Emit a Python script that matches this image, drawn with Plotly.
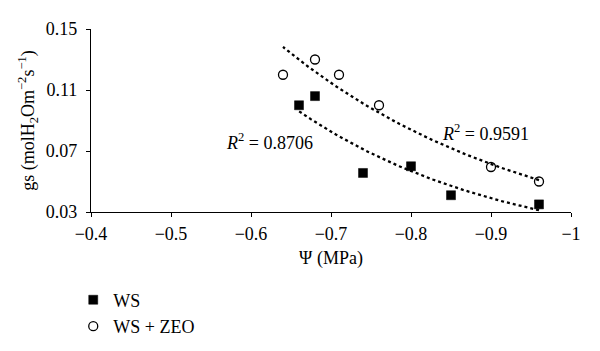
import numpy as np
import plotly.graph_objects as go

# Data
ws_x = [-0.66, -0.68, -0.74, -0.80, -0.85, -0.96]
ws_y = [0.100, 0.106, 0.0556, 0.060, 0.041, 0.035]
zeo_x = [-0.64, -0.68, -0.71, -0.76, -0.90, -0.96]
zeo_y = [0.120, 0.130, 0.120, 0.100, 0.0595, 0.050]

x_ticks = [-0.4, -0.5, -0.6, -0.7, -0.8, -0.9, -1.0]
x_tick_text = ["\u22120.4", "\u22120.5", "\u22120.6", "\u22120.7", "\u22120.8", "\u22120.9", "\u22121"]
y_ticks = [0.03, 0.07, 0.11, 0.15]
y_tick_text = ["0.03", "0.07", "0.11", "0.15"]

r2_ws = "0.8706"
r2_zeo = "0.9591"

FONT = "Liberation Serif, Times New Roman, serif"
FS = 18


def exp_trend(xs, ys):
    # Exponential trendline (least squares on ln y), as a spreadsheet would draw it
    b, a = np.polyfit(xs, np.log(ys), 1)
    xx = np.linspace(min(xs), max(xs), 80)
    return xx, np.exp(a + b * xx)


fig = go.Figure()

tx, ty = exp_trend(zeo_x, zeo_y)
fig.add_trace(go.Scatter(x=tx, y=ty, mode="lines", showlegend=False,
                         line=dict(color="black", width=2.3, dash="dot"), hoverinfo="skip"))
tx, ty = exp_trend(ws_x, ws_y)
fig.add_trace(go.Scatter(x=tx, y=ty, mode="lines", showlegend=False,
                         line=dict(color="black", width=2.3, dash="dot"), hoverinfo="skip"))

fig.add_trace(go.Scatter(x=ws_x, y=ws_y, mode="markers", name="WS",
                         marker=dict(symbol="square", size=9, color="black",
                                     line=dict(color="black", width=0.5))))
fig.add_trace(go.Scatter(x=zeo_x, y=zeo_y, mode="markers", name="WS + ZEO",
                         marker=dict(symbol="circle-open", size=9, color="black",
                                     line=dict(color="black", width=1.3))))

fig.add_annotation(x=-0.6228, y=0.0762, xref="x", yref="y", showarrow=False,
                   text="<i>R</i><sup>2</sup> = " + r2_ws,
                   font=dict(family=FONT, size=FS, color="black"))
fig.add_annotation(x=-0.8935, y=0.0819, xref="x", yref="y", showarrow=False,
                   text="<i>R</i><sup>2</sup> = " + r2_zeo,
                   font=dict(family=FONT, size=FS, color="black"))

fig.update_layout(
    width=600, height=351,
    margin=dict(l=91, r=29, t=29, b=139, autoexpand=False),
    paper_bgcolor="white", plot_bgcolor="white",
    font=dict(family=FONT, size=FS, color="black"),
    legend=dict(x=-0.037, y=-0.38, xanchor="left", yanchor="top",
                font=dict(family=FONT, size=FS, color="black"),
                bgcolor="rgba(0,0,0,0)", tracegroupgap=0),
    xaxis=dict(range=[-0.4, -1.0], tickvals=x_ticks, ticktext=x_tick_text,
               showgrid=False, zeroline=False, showline=True, linecolor="black",
               linewidth=1.3, ticks="outside", ticklen=4, tickwidth=1.3, tickcolor="black",
               ticklabelstandoff=1,
               title=dict(text="\u03a8 (MPa)", standoff=8,
                          font=dict(family=FONT, size=FS, color="black"))),
    yaxis=dict(range=[0.03, 0.15], tickvals=y_ticks, ticktext=y_tick_text,
               showgrid=False, zeroline=False, showline=True, linecolor="black",
               linewidth=1.3, ticks="outside", ticklen=4, tickwidth=1.3, tickcolor="black",
               ticklabelstandoff=5,
               title=dict(text="gs (molH<sub>2</sub>Om<sup>\u22122</sup>s<sup>\u22121</sup>)",
                          standoff=6, font=dict(family=FONT, size=FS, color="black"))),
)

fig.write_html("out.html")
